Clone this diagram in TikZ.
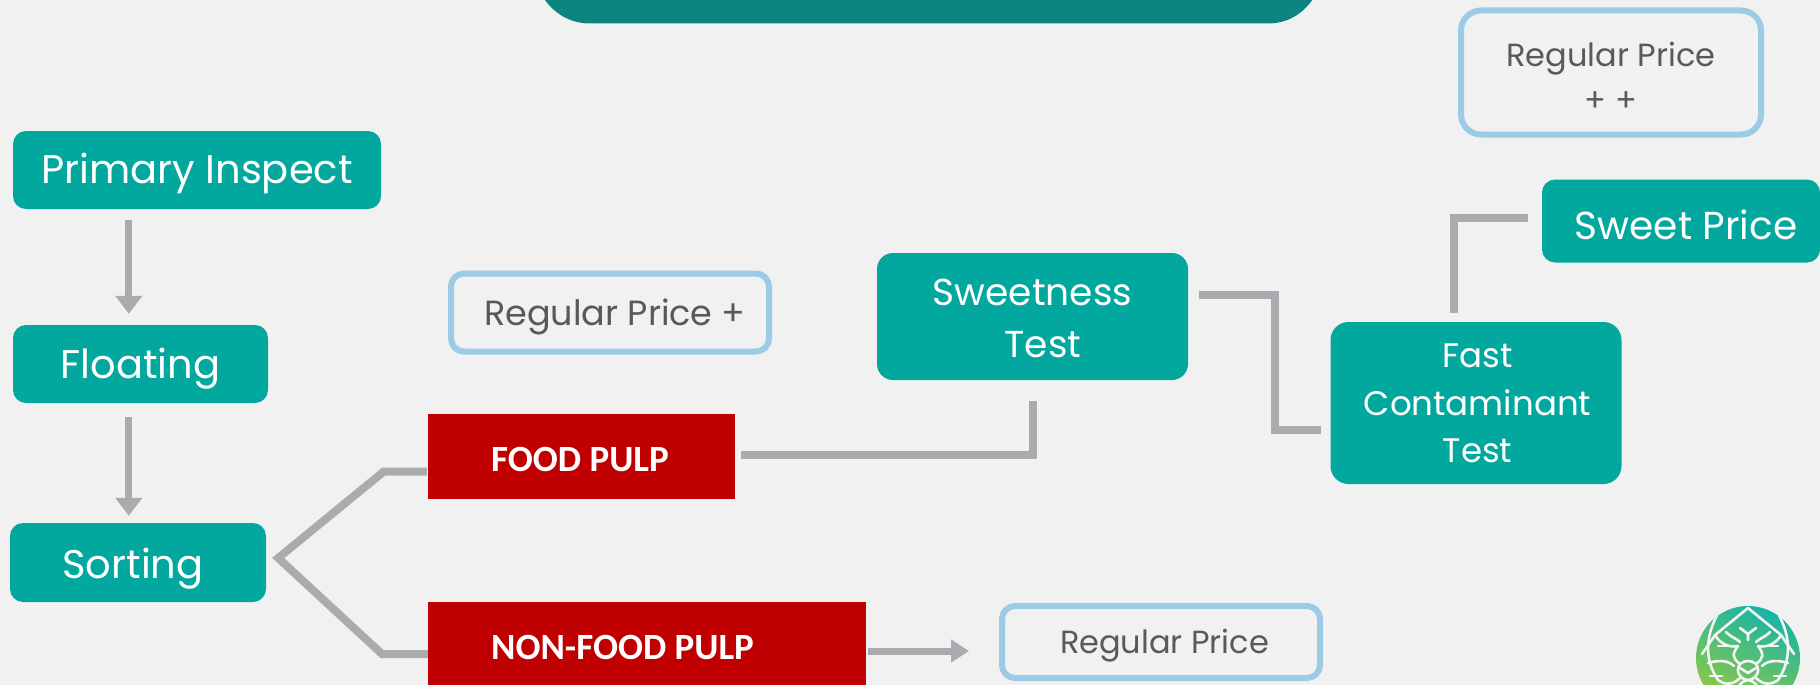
\documentclass[tikz,border=0pt]{standalone}
\usepackage{fontspec}
\setmainfont{Poppins}
\newfontfamily\boldlabel{Carlito}[BoldFont={Carlito Bold}]
\usetikzlibrary{arrows.meta}
\definecolor{pagebg}{HTML}{F1F1F1}
\definecolor{tealbox}{HTML}{02A89E}
\definecolor{tealdark}{HTML}{0C8480}
\definecolor{linegray}{HTML}{A9ABAE}
\definecolor{bluerim}{HTML}{9CCBE8}
\definecolor{redbox}{HTML}{C00000}
\definecolor{pricetext}{HTML}{595959}
\definecolor{logogreen}{HTML}{9CCB3B}
\definecolor{logoteal}{HTML}{0FB2AE}
\newcommand{\lowered}[2]{\raisebox{-#1}[\height][\depth]{#2}}
\tikzset{
  tbox/.style={fill=tealbox,rounded corners=13pt,text=white,align=center,inner sep=0pt,font=\fontsize{40}{52}\selectfont},
  pricebox/.style={draw=bluerim,line width=6pt,fill=pagebg,rounded corners=13pt,text=pricetext,align=center,inner sep=0pt,font=\fontsize{32}{45}\selectfont},
  rbox/.style={fill=redbox,text=white,inner sep=0pt,font=\boldlabel\bfseries\fontsize{37}{42}\selectfont},
  link/.style={draw=linegray,line width=8pt},
  flow/.style={draw=linegray,line width=7pt,-{Triangle[width=26pt,length=18pt]}},
  logoline/.style={draw=pagebg!85!white,line width=2.6pt,line cap=round,line join=round}
}
\begin{document}
\begin{tikzpicture}[x=1pt,y=-1pt]
\useasboundingbox (0,0) rectangle (1820,685);
\fill[pagebg] (0,0) rectangle (1820,685);
% top banner, cropped by the page edge
\fill[tealdark] (534,-20) .. controls (545,8) and (565,23.5) .. (590,23.5) -- (1268,23.5) .. controls (1293,23.5) and (1312,8) .. (1323,-20) -- cycle;
% teal boxes
\node[tbox,minimum width=368pt,minimum height=78pt] (pi) at (197,170) {\lowered{3.5pt}{Primary Inspect}};
\node[tbox,minimum width=255pt,minimum height=78pt] (fl) at (140.5,364) {\lowered{4.5pt}{Floating}};
\node[tbox,minimum width=256pt,minimum height=79pt] (so) at (138,562.5) {\lowered{6pt}{Sorting\hspace*{10pt}}};
\node[tbox,minimum width=311pt,minimum height=127pt,rounded corners=16pt,font=\fontsize{37.5}{52}\selectfont] (sw) at (1032.5,316.5) {\lowered{2pt}{Sweetness}\\\lowered{2pt}{\hspace*{21pt}Test}};
\node[tbox,minimum width=291pt,minimum height=162pt,rounded corners=18pt,font=\fontsize{34}{47}\selectfont] (fa) at (1476,403) {\hspace*{3pt}Fast\\\hspace*{3pt}\lowered{1pt}{Contaminant}\\\hspace*{3pt}\lowered{1pt}{Test}};
\node[tbox,minimum width=278pt,minimum height=83pt,font=\fontsize{39}{48}\selectfont] (sp) at (1681,221) {\lowered{3.5pt}{\hspace*{10pt}Sweet Price}};
% red boxes
\node[rbox,minimum width=307pt,minimum height=85pt] (food) at (581.5,456.5) {};
\node[rbox,minimum width=438pt,minimum height=100pt] (nonfood) at (647,652) {};
\node[rbox,anchor=west] (foodt) at (491,459) {FOOD PULP};
\node[rbox,anchor=west] (nonfoodt) at (491,647) {NON-FOOD PULP};
% price boxes
\node[pricebox,minimum width=318pt,minimum height=78pt,font=\fontsize{35}{45}\selectfont] (rp1) at (610,312.5) {\lowered{4.5pt}{\hspace*{10pt}Regular Price +}};
\node[pricebox,minimum width=318pt,minimum height=72pt] (rp0) at (1161,642) {\lowered{3.5pt}{\hspace*{7pt}Regular Price}};
\node[pricebox,minimum width=300pt,minimum height=124pt,rounded corners=20pt] (rp2) at (1611,72.5) {\lowered{4.5pt}{Regular Price}\\\lowered{4.5pt}{+ +}};
% connectors
\draw[flow] ([shift={(116pt,-11pt)}]pi.south west) -- ([shift={(116pt,11pt)}]fl.north west);
\draw[flow] ([shift={(116pt,-14pt)}]fl.south west) -- ([shift={(119pt,7pt)}]so.north west);
\draw[link] ([shift={(-1pt,-15pt)}]food.west) -- ++(-43,0) -- ([shift={(12pt,4.5pt)}]so.east) -- (382,654) -- (nonfood.west |- 0,654);
\draw[link] ([shift={(6pt,2pt)}]food.east) -- ++(292,0) -- ++(0,-54);
\draw[link] ([shift={(11pt,22pt)}]sw.east) -- (1275,294.5) -- (1275,430) -- ([shift={(-9pt,-27pt)}]fa.west);
\draw[link] ([shift={(-22pt,9pt)}]fa.north) -- (1454,218) -- ([shift={(-14pt,3pt)}]sp.west);
\draw[draw=linegray,line width=7pt,-{Triangle[width=22pt,length=18pt]}] ([shift={(2pt,1pt)}]nonfood.east) -- ([shift={(-30pt,-9pt)}]rp0.west);
% emblem, cropped by the page edge
\begin{scope}[shift={(1748,658)}]
\clip (0,0) circle[radius=52];
\shade[shading=axis,bottom color=logogreen,top color=logoteal,shading angle=-25]
  (-60,-60) rectangle (60,60);
\draw[logoline] (0,-50) -- (-33,-23) .. controls (-28,-14) and (-18,-10) .. (-10,-12) .. controls (-16,-4) and (-16,0) .. (-8,6);
\draw[logoline] (0,-50) -- (33,-23) .. controls (28,-14) and (18,-10) .. (10,-12) .. controls (16,-4) and (16,0) .. (8,6);
\draw[logoline] (-8,6) .. controls (-4,2) and (4,2) .. (8,6) .. controls (14,14) and (6,22) .. (0,22) .. controls (-6,22) and (-14,14) .. (-8,6);
\draw[logoline] (0,22) .. controls (-10,24) and (-12,32) .. (-8,38) (0,22) .. controls (10,24) and (12,32) .. (8,38);
\draw[logoline] (-28,-48) .. controls (-42,-25) and (-45,0) .. (-30,22) .. controls (-22,28) and (-14,26) .. (-8,20);
\draw[logoline] (28,-48) .. controls (42,-25) and (45,0) .. (30,22) .. controls (22,28) and (14,26) .. (8,20);
\draw[logoline] (-33,-23) -- (-46,-4) (33,-23) -- (46,-4);
\draw[logoline] (-30,-12) -- (-20,-12) (30,-12) -- (20,-12);
\draw[logoline] (-40,5) .. controls (-30,2) and (-20,2) .. (-14,8) (40,5) .. controls (30,2) and (20,2) .. (14,8);
\draw[logoline] (-38,18) -- (-26,18) (38,18) -- (26,18);
\draw[logoline] (-42,30) .. controls (-30,26) and (-20,28) .. (-12,36) (42,30) .. controls (30,26) and (20,28) .. (12,36);
\draw[logoline] (-38,42) .. controls (-28,38) and (-20,40) .. (-12,46) (38,42) .. controls (28,38) and (20,40) .. (12,46);
\draw[logoline] (-8,-30) -- (0,-24) -- (8,-30) (0,-24) -- (0,-18);
\draw[logoline] (-8,10) -- (0,15) -- (8,10);
\draw[logoline] (-22,-26) .. controls (-16,-20) and (-12,-20) .. (-8,-16) (22,-26) .. controls (16,-20) and (12,-20) .. (8,-16);
\end{scope}
\end{tikzpicture}
\end{document}
